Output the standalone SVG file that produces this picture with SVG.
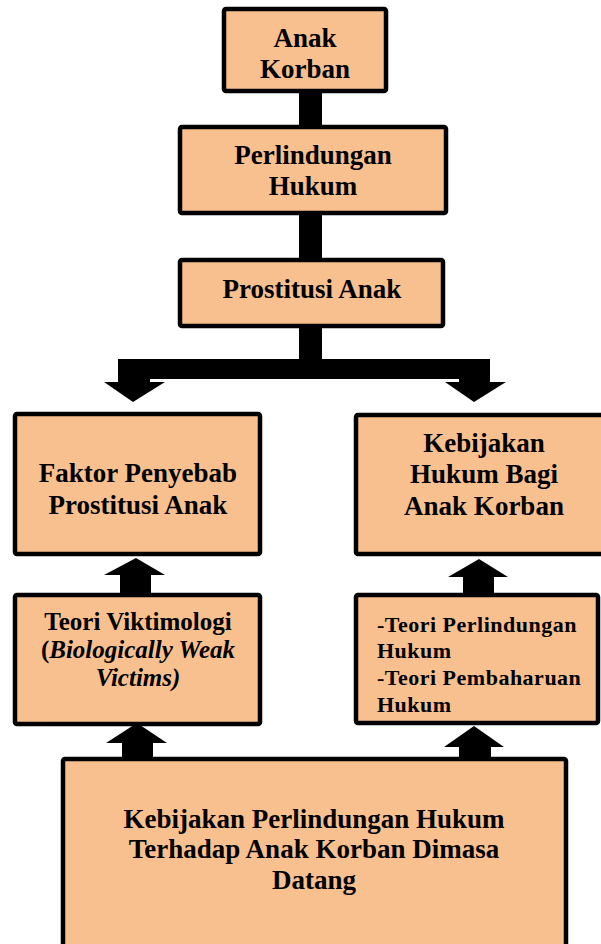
<svg xmlns="http://www.w3.org/2000/svg" width="601" height="944" viewBox="0 0 601 944">
<style>
.box{fill:#F9C08F;stroke:#000;stroke-width:4.5;}
.t{font-family:"Liberation Serif","Times New Roman",serif;font-weight:bold;fill:#000;text-anchor:middle;font-size:27px;}
.s{font-size:25px;}
.l{font-family:"Liberation Serif","Times New Roman",serif;font-weight:bold;fill:#000;font-size:22px;letter-spacing:0.5px;}
.c{fill:#000;}
</style>
<rect width="601" height="944" fill="#fff"/>
<g id="connectors">
<rect class="c" x="299" y="90" width="23" height="38"/>
<rect class="c" x="299" y="212" width="23" height="49"/>
<path class="c" d="M299,325 H322 V359 H490 V382 H506 L474,402 L445,382 H459 V379 H150 V382 H165 L133,402 L104,382 H118 V359 H299 Z"/>
<path class="c" d="M136,558 L165,575 H151 V595 H120 V575 H104 Z"/>
<path class="c" d="M479,559 L508,577 H494 V597 H463 V577 H448 Z"/>
<path class="c" d="M137,723 L167,743 H153 V760 H122 V743 H106 Z"/>
<path class="c" d="M474,726 L504,747 H491 V760 H459 V747 H444 Z"/>
</g>
<g id="anak-korban">
<rect class="box" x="224" y="9" width="162" height="82" rx="2"/>
<text class="t" x="305" y="47">Anak</text>
<text class="t" x="305" y="78">Korban</text>
</g>
<g id="perlindungan-hukum">
<rect class="box" x="180" y="127" width="266" height="86" rx="2"/>
<text class="t" x="313" y="164">Perlindungan</text>
<text class="t" x="313" y="195">Hukum</text>
</g>
<g id="prostitusi-anak">
<rect class="box" x="180" y="260" width="263" height="66" rx="2"/>
<text class="t" x="312" y="298">Prostitusi Anak</text>
</g>
<g id="faktor-penyebab">
<rect class="box" x="15" y="414" width="245" height="140" rx="2"/>
<text class="t" x="138" y="482">Faktor Penyebab</text>
<text class="t" x="138" y="514">Prostitusi Anak</text>
</g>
<g id="kebijakan-hukum">
<rect class="box" x="356" y="415" width="256" height="139" rx="2"/>
<text class="t" x="484" y="452">Kebijakan</text>
<text class="t" x="484" y="483">Hukum Bagi</text>
<text class="t" x="484" y="515">Anak Korban</text>
</g>
<g id="teori-viktimologi">
<rect class="box" x="15" y="595" width="245" height="129" rx="2"/>
<text class="t s" x="138" y="630">Teori Viktimologi</text>
<text class="t s" x="138" y="658">(<tspan font-style="italic">Biologically Weak</tspan></text>
<text class="t s" x="138" y="686" font-style="italic">Victims)</text>
</g>
<g id="teori-perlindungan">
<rect class="box" x="356" y="595" width="242" height="128" rx="2"/>
<text class="l" x="377" y="632">-Teori Perlindungan</text>
<text class="l" x="377" y="658">Hukum</text>
<text class="l" x="377" y="685">-Teori Pembaharuan</text>
<text class="l" x="377" y="712">Hukum</text>
</g>
<g id="kebijakan-perlindungan">
<rect class="box" x="63" y="759" width="503" height="200" rx="2"/>
<text class="t" x="314" y="828">Kebijakan Perlindungan Hukum</text>
<text class="t" x="314" y="858">Terhadap Anak Korban Dimasa</text>
<text class="t" x="314" y="889">Datang</text>
</g>
</svg>
